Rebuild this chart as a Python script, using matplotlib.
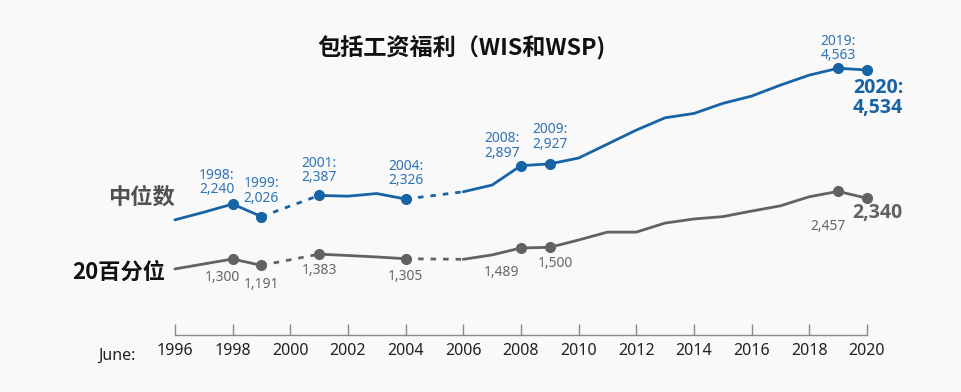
import numpy as np
import matplotlib
matplotlib.use('Agg')
from matplotlib import pyplot as plt

plt.rcParams['font.family'] = ['Noto Sans', 'Noto Sans CJK SC', 'DejaVu Sans']

years = list(range(1996, 2021))
# median (中位数), None = no survey that year
median = [1970, 2100, 2240, 2026, None, 2387, 2375, 2420, 2326, None, 2450, 2565,
          2897, 2927, 3027, 3266, 3505, 3716, 3790, 3962, 4087, 4275, 4446, 4563, 4534]
# 20th percentile (20百分位)
p20 = [1130, 1215, 1300, 1191, None, 1383, 1360, 1335, 1305, None, 1295, 1370,
       1489, 1500, 1625, 1760, 1760, 1915, 1985, 2025, 2120, 2210, 2365, 2457, 2340]

mark_years = [1998, 1999, 2001, 2004, 2008, 2009, 2019, 2020]
blue_lab_years = [1998, 1999, 2001, 2004, 2008, 2009, 2019]
gray_lab_years = [1998, 1999, 2001, 2004, 2008, 2009, 2019]

blue = '#1663a6'
blue_txt = '#2f74b5'
gray = '#626262'
gray_txt = '#666666'
bg = '#f9f9f9'
boldfam = ['Open Sans', 'DejaVu Sans']

fig = plt.figure(figsize=(9.61, 3.92), dpi=100, facecolor=bg)
ax = fig.add_axes([0.182, 0.1454, 0.7201, 0.7456], facecolor=bg)

def draw(vals, color):
    y = np.array([np.nan if v is None else v for v in vals], dtype=float)
    x = np.array(years)
    ax.plot(x, y, color=color, lw=2, solid_capstyle='round', clip_on=False)
    # dotted bridges over missing years
    for i in range(1, len(y) - 1):
        if np.isnan(y[i]):
            ax.plot([x[i - 1], x[i + 1]], [y[i - 1], y[i + 1]], color=color, lw=2,
                    linestyle=(0, (2, 2.5)), clip_on=False)
    my = [y[years.index(yr)] for yr in mark_years]
    ax.plot(mark_years, my, 'o', color=color, ms=7, clip_on=False, zorder=3)
    return y

ym = draw(median, blue)
yp = draw(p20, gray)

# blue labels above points
b_off = {1998: (-16, 7), 1999: (0, 11), 2001: (0, 10), 2004: (0, 11), 2008: (-19, 5),
         2009: (0, 12), 2019: (0, 5)}
for yr in blue_lab_years:
    v = median[years.index(yr)]
    ax.annotate('%d:\n%s' % (yr, format(v, ',')), (yr, v), textcoords='offset pixels',
                xytext=b_off[yr], ha='center', va='bottom', fontsize=10, color=blue_txt,
                linespacing=0.95)
ax.annotate('2020:\n4,534', (2020, 4534), textcoords='offset pixels', xytext=(-14, -8),
            ha='left', va='top', fontsize=14, fontweight='bold', color=blue,
            linespacing=1.0, family=boldfam)

# gray labels below points
g_off = {1998: (-10, -11), 1999: (0, -12), 2001: (0, -9), 2004: (0, -10), 2008: (-19, -17),
         2009: (6, -9), 2019: (-10, -28)}
for yr in gray_lab_years:
    v = p20[years.index(yr)]
    ax.annotate(format(v, ','), (yr, v), textcoords='offset pixels', xytext=g_off[yr],
                ha='center', va='top', fontsize=10, color=gray_txt)
ax.annotate('2,340', (2020, 2340), textcoords='offset pixels', xytext=(-15, -5),
            ha='left', va='top', fontsize=14, fontweight='bold', color=gray, family=boldfam)

ax.set_xlim(1996, 2020)
ax.set_ylim(0, 5000)
for s in ['left', 'right', 'top']:
    ax.spines[s].set_visible(False)
ax.spines['bottom'].set_color('#8a8a8a')
ax.spines['bottom'].set_linewidth(1)
ax.set_yticks([])
ax.set_xticks(range(1996, 2021, 2))
ax.tick_params(axis='x', direction='in', length=8, width=1, color='#8a8a8a',
               labelsize=11.5, labelcolor='#222222', pad=6)

fig.text(0.141, 0.1454 - 0.052, 'June:', ha='right', va='center', fontsize=11.5,
         color='#222222')

fig.text(0.48, 0.878, '包括工资福利（WIS和WSP)', ha='center', va='center', fontsize=16.7,
         fontweight='bold', color='#111111', family=['Noto Sans CJK SC', 'DejaVu Sans'])
fig.text(0.182, 0.498, '中位数', ha='right', va='center', fontsize=16, fontweight='bold',
         color='#505050', family=['Noto Sans CJK SC', 'DejaVu Sans'])
fig.text(0.172, 0.306, '20百分位', ha='right', va='center', fontsize=16, fontweight='bold',
         color='#111111', family=['Noto Sans CJK SC', 'DejaVu Sans'])

fig.savefig('out.png', dpi=100, facecolor=bg)
